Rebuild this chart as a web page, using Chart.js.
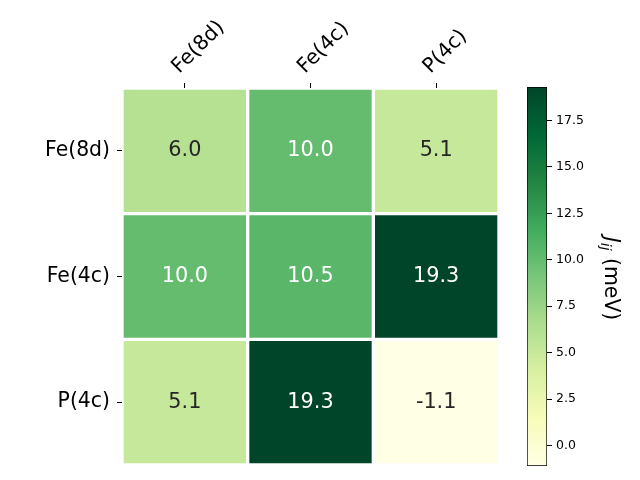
<!DOCTYPE html>
<html>
<head>
<meta charset="utf-8">
<script src="https://cdn.jsdelivr.net/npm/chart.js@4.4.0/dist/chart.umd.min.js"></script>
<style>
  html, body { margin: 0; padding: 0; background: #fff; }
  #wrap { position: relative; width: 640px; height: 480px; }
  #wrap canvas { position: absolute; left: 0; top: 0; }
</style>
</head>
<body>
<div id="wrap">
  <canvas id="heat" width="640" height="480"></canvas>
  <canvas id="cbar" width="640" height="480"></canvas>
</div>
<script>
// data
const colLabels = ['Fe(8d)', 'Fe(4c)', 'P(4c)'];
const rowLabels = ['Fe(8d)', 'Fe(4c)', 'P(4c)'];
const rowFe8d = [6.0, 10.0, 5.1];
const rowFe4c = [10.0, 10.5, 19.3];
const rowP4c = [5.1, 19.3, -1.1];
const cbarTicks = [0, 2.5, 5, 7.5, 10, 12.5, 15, 17.5];
const vmin = -1.1, vmax = 19.3;
const rows = [rowFe8d, rowFe4c, rowP4c];

// YlGn colormap
const ylgn = ['#ffffe5', '#f7fcb9', '#d9f0a3', '#addd8e', '#78c679', '#41ab5d', '#238443', '#006837', '#004529'];
const cmapRgb = ylgn.map(h => [1, 3, 5].map(k => parseInt(h.substr(k, 2), 16)));

function cmapArr(t) {
  t = Math.min(1, Math.max(0, t));
  const p = t * (cmapRgb.length - 1);
  const k = Math.min(Math.floor(p), cmapRgb.length - 2);
  const f = p - k;
  return cmapRgb[k].map((a, n) => Math.round(a + (cmapRgb[k + 1][n] - a) * f));
}
function cmap(v) {
  return 'rgb(' + cmapArr((v - vmin) / (vmax - vmin)).join(',') + ')';
}
function textColor(v) {
  const c = cmapArr((v - vmin) / (vmax - vmin)).map(x => {
    x /= 255;
    return x <= 0.03928 ? x / 12.92 : Math.pow((x + 0.055) / 1.055, 2.4);
  });
  const lum = 0.2126 * c[0] + 0.7152 * c[1] + 0.0722 * c[2];
  return lum > 0.408 ? '#262626' : '#ffffff';
}

const FONT = 'DejaVu Sans';

// numbers inside the cells
const cellText = {
  id: 'cellText',
  afterDatasetsDraw(chart) {
    const ctx = chart.ctx;
    ctx.save();
    ctx.font = '20.8px "' + FONT + '"';
    ctx.textAlign = 'center';
    ctx.textBaseline = 'middle';
    rows.forEach((row, i) => {
      const meta = chart.getDatasetMeta(i);
      row.forEach((v, j) => {
        const el = meta.data[j];
        const p = el.getProps(['x', 'y', 'base'], true);
        ctx.fillStyle = textColor(v);
        ctx.fillText(v.toFixed(1), p.x, (p.y + p.base) / 2);
      });
    });
    ctx.restore();
  }
};

new Chart(document.getElementById('heat'), {
  type: 'bar',
  data: {
    labels: colLabels,
    datasets: rows.map((row, i) => ({
      data: row.map(() => [i, i + 1]),
      backgroundColor: row.map(v => cmap(v)),
      borderColor: '#ffffff',
      borderWidth: 2,
      borderSkipped: false,
      grouped: false,
      barPercentage: 1,
      categoryPercentage: 1
    }))
  },
  options: {
    responsive: false,
    animation: false,
    events: [],
    layout: { padding: { top: 0, right: 141, bottom: 15, left: 0 } },
    plugins: { legend: { display: false }, tooltip: { enabled: false } },
    scales: {
      x: {
        type: 'category',
        position: 'top',
        offset: true,
        grid: { display: true, drawOnChartArea: false, drawTicks: true, tickLength: 5, tickColor: '#000', offset: false },
        border: { display: false },
        ticks: { color: '#000', font: { family: FONT, size: 20.4 }, minRotation: 45, maxRotation: 45, padding: 4, labelOffset: 8, autoSkip: false },
        afterFit: s => { s.height = 88; }
      },
      y: {
        type: 'linear',
        min: 0,
        max: 3,
        reverse: true,
        afterBuildTicks: s => { s.ticks = rowLabels.map((_, i) => ({ value: i + 0.5 })); },
        ticks: { callback: (v, i) => rowLabels[i], color: '#000', font: { family: FONT, size: 20.4 }, padding: 7 },
        grid: { drawOnChartArea: false, tickLength: 5, tickColor: '#000' },
        border: { display: false },
        afterFit: s => { s.width = 122; s.paddingTop = 0; s.paddingBottom = 0; }
      }
    }
  },
  plugins: [cellText]
});

// colorbar label with italic J and subscript ij
const cbarTitle = {
  id: 'cbarTitle',
  afterDraw(chart) {
    const ctx = chart.ctx;
    const a = chart.chartArea;
    const big = '20.4px "' + FONT + '"';
    const bigI = 'italic 20.4px "' + FONT + '"';
    const smallI = 'italic 14.2px "' + FONT + '"';
    ctx.save();
    ctx.font = bigI; const wJ = ctx.measureText('J').width;
    ctx.font = smallI; const wS = ctx.measureText('ij').width;
    ctx.font = big; const wR = ctx.measureText(' (meV)').width;
    const total = wJ + wS + 1 + wR;
    ctx.translate(605, (a.top + a.bottom) / 2 + 2);
    ctx.rotate(Math.PI / 2);
    ctx.fillStyle = '#000';
    ctx.textBaseline = 'alphabetic';
    ctx.textAlign = 'left';
    let x = -total / 2;
    ctx.font = bigI; ctx.fillText('J', x, 0); x += wJ;
    ctx.font = smallI; ctx.fillText('ij', x, 4); x += wS + 1;
    ctx.font = big; ctx.fillText(' (meV)', x, 0);
    ctx.restore();
  }
};

new Chart(document.getElementById('cbar'), {
  type: 'bar',
  data: {
    labels: [''],
    datasets: [{
      data: [[vmin, vmax]],
      backgroundColor: c => {
        const chart = c.chart;
        if (!chart.chartArea) return null;
        const y = chart.scales.y;
        const g = chart.ctx.createLinearGradient(0, y.getPixelForValue(vmin), 0, y.getPixelForValue(vmax));
        ylgn.forEach((col, k) => g.addColorStop(k / (ylgn.length - 1), col));
        return g;
      },
      borderColor: '#000',
      borderWidth: 1,
      borderSkipped: false,
      barPercentage: 1,
      categoryPercentage: 1
    }]
  },
  options: {
    responsive: false,
    animation: false,
    events: [],
    layout: { padding: { left: 527, top: 87, bottom: 14, right: 0 } },
    plugins: { legend: { display: false }, tooltip: { enabled: false } },
    scales: {
      x: { display: false },
      y: {
        position: 'right',
        min: vmin,
        max: vmax,
        afterBuildTicks: s => { s.ticks = cbarTicks.map(v => ({ value: v })); },
        ticks: { callback: v => v.toFixed(1), color: '#000', font: { family: FONT, size: 12.5 }, padding: 4 },
        grid: { drawOnChartArea: false, tickLength: 5, tickColor: '#000' },
        border: { display: false },
        afterFit: s => { s.width = 93; s.paddingTop = 0; s.paddingBottom = 0; }
      }
    }
  },
  plugins: [cbarTitle]
});
</script>
</body>
</html>
